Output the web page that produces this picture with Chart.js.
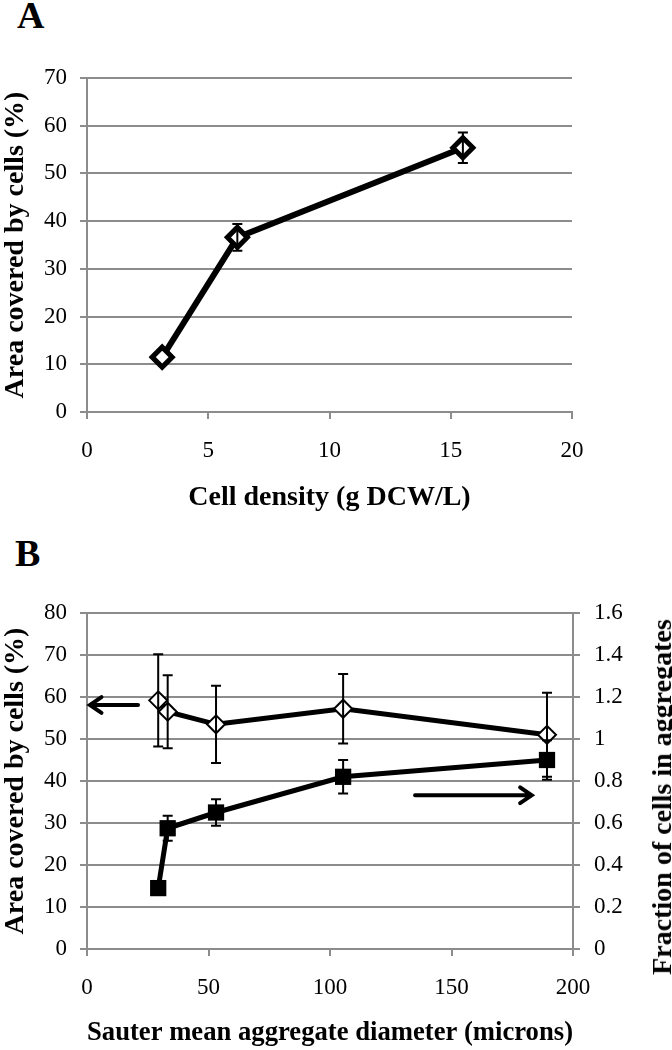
<!DOCTYPE html>
<html>
<head>
<meta charset="utf-8">
<script src="https://cdn.jsdelivr.net/npm/chart.js@4.4.0/dist/chart.umd.min.js"></script>
<style>
  body { margin: 0; background: #fff; }
  #page { position: relative; width: 672px; height: 1050px; overflow: hidden; font-family: "Liberation Serif", "Times New Roman", serif; }
  .panel-label { position: absolute; font-weight: bold; font-size: 38px; line-height: 1; }
  canvas { position: absolute; left: 0; }
  #rightTitle { position: absolute; left: 662px; top: 797px; font-weight: bold; font-size: 28px; white-space: nowrap;
    transform: translate(-50%, -50%) rotate(-90deg); }
</style>
</head>
<body>
<div id="page">
  <div class="panel-label" style="left:17px; top:-4px">A</div>
  <canvas id="chartA" width="672" height="520" style="top:0"></canvas>
  <div class="panel-label" style="left:15px; top:534px">B</div>
  <canvas id="chartB" width="672" height="530" style="top:520px"></canvas>
  <div id="rightTitle">Fraction of cells in aggregates</div>
</div>
<script>
// Panel A
const cellDensity = [3.1, 6.2, 15.5];
const areaA = [11.5, 36.6, 55.4];
const areaAErr = [0, 2.8, 3.2];

// Panel B
const sauterDiam = [29.3, 33.2, 53.1, 105.4, 189.3];
const areaB = [59.2, 56.5, 53.5, 57.2, 51.0];
const areaBErr = [11.0, 8.7, 9.2, 8.3, 10.0];
const fracAgg = [0.29, 0.575, 0.65, 0.82, 0.90];
const fracAggErr = [0, 0.06, 0.063, 0.08, 0.094];

// arrows in panel B (data units of x and left y axis)
const leftArrowX = [21, 1.2];
const leftArrowY = [58.1, 58.1];
const rightArrowX = [135, 183];
const rightArrowY = [36.6, 36.6];

const GRID = 'rgb(140,140,140)';
Chart.defaults.font.family = "'Liberation Serif', 'Times New Roman', serif";
Chart.defaults.color = '#000';

function points(xs, ys) {
  return xs.map((x, i) => ({ x: x, y: ys[i] }));
}

const errorBars = {
  id: 'errorBars',
  afterDatasetsDraw(chart) {
    const ctx = chart.ctx;
    chart.data.datasets.forEach(ds => {
      if (!ds.errors) return;
      const xs = chart.scales.x;
      const ys = chart.scales[ds.yAxisID || 'y'];
      const cap = 5;
      ctx.save();
      ctx.strokeStyle = '#000';
      ctx.lineWidth = 2;
      ds.data.forEach((p, j) => {
        const e = ds.errors[j];
        if (!e) return;
        const px = xs.getPixelForValue(p.x);
        const top = ys.getPixelForValue(p.y + e);
        const bot = ys.getPixelForValue(p.y - e);
        ctx.beginPath();
        ctx.moveTo(px, top); ctx.lineTo(px, bot);
        ctx.moveTo(px - cap, top); ctx.lineTo(px + cap, top);
        ctx.moveTo(px - cap, bot); ctx.lineTo(px + cap, bot);
        ctx.stroke();
      });
      ctx.restore();
    });
  }
};

const arrows = {
  id: 'arrows',
  afterDatasetsDraw(chart, args, opts) {
    if (!opts.list) return;
    const ctx = chart.ctx;
    const xs = chart.scales.x, ys = chart.scales.y;
    ctx.save();
    ctx.strokeStyle = '#000';
    ctx.lineWidth = 4;
    ctx.lineCap = 'round';
    opts.list.forEach(a => {
      const x0 = xs.getPixelForValue(a.x[0]), y0 = ys.getPixelForValue(a.y[0]);
      const x1 = xs.getPixelForValue(a.x[1]), y1 = ys.getPixelForValue(a.y[1]);
      const ang = Math.atan2(y1 - y0, x1 - x0);
      const h = 14;
      ctx.beginPath();
      ctx.moveTo(x0, y0); ctx.lineTo(x1, y1);
      ctx.moveTo(x1 - h * Math.cos(ang - 0.6), y1 - h * Math.sin(ang - 0.6));
      ctx.lineTo(x1, y1);
      ctx.lineTo(x1 - h * Math.cos(ang + 0.6), y1 - h * Math.sin(ang + 0.6));
      ctx.stroke();
    });
    ctx.restore();
  }
};

function yAxis(max, step, title, width) {
  return {
    min: 0, max: max,
    ticks: { stepSize: step, padding: 13, font: { size: 23 } },
    grid: { color: GRID, lineWidth: 2, tickLength: 7 },
    border: { color: GRID, width: 2 },
    title: { display: true, text: title, font: { size: 28, weight: 'bold' }, padding: { top: -1, bottom: 0 } },
    afterFit: s => { s.width = width; }
  };
}

function xAxis(max, step, title, height, padBottom) {
  return {
    type: 'linear', min: 0, max: max,
    ticks: { stepSize: step, padding: 18, font: { size: 23 }, autoSkip: false, maxRotation: 0 },
    grid: { color: GRID, lineWidth: 2, tickLength: 7, drawOnChartArea: false },
    border: { color: GRID, width: 2 },
    title: { display: true, text: title, font: { size: 28, weight: 'bold' }, padding: { top: 0, bottom: padBottom } },
    afterFit: s => { s.height = height; }
  };
}

const commonPlugins = { legend: { display: false }, tooltip: { enabled: false } };

new Chart(document.getElementById('chartA'), {
  type: 'scatter',
  data: {
    datasets: [{
      data: points(cellDensity, areaA),
      errors: areaAErr,
      showLine: true,
      borderColor: '#000',
      borderWidth: 6,
      pointStyle: 'rectRot',
      pointRadius: 10,
      pointBorderWidth: 5,
      pointBackgroundColor: '#fff',
      pointBorderColor: '#000'
    }]
  },
  options: {
    responsive: false,
    animation: false,
    layout: { padding: { top: 78, right: 100, left: 0, bottom: 0 } },
    scales: {
      x: xAxis(20, 5, 'Cell density (g DCW/L)', 108, 5),
      y: yAxis(70, 10, 'Area covered by cells (%)', 87)
    },
    plugins: commonPlugins
  },
  plugins: [errorBars]
});

const yRight = {
  position: 'right', min: 0, max: 1.6,
  ticks: { stepSize: 0.2, padding: 14, font: { size: 23 }, callback: v => String(+v.toFixed(1)) },
  grid: { color: GRID, lineWidth: 2, tickLength: 7, drawOnChartArea: false },
  border: { color: GRID, width: 2 },
  afterFit: s => { s.width = 99; }
};

new Chart(document.getElementById('chartB'), {
  type: 'scatter',
  data: {
    datasets: [{
      data: points(sauterDiam, areaB),
      errors: areaBErr,
      yAxisID: 'y',
      showLine: true,
      borderColor: '#000',
      borderWidth: 5,
      pointStyle: 'rectRot',
      pointRadius: 9,
      pointBorderWidth: 2,
      pointBackgroundColor: '#fff',
      pointBorderColor: '#000'
    }, {
      data: points(sauterDiam, fracAgg),
      errors: fracAggErr,
      yAxisID: 'y1',
      showLine: true,
      borderColor: '#000',
      borderWidth: 5,
      pointStyle: 'rect',
      pointRadius: 11.5,
      pointBorderWidth: 0,
      pointBackgroundColor: '#000'
    }]
  },
  options: {
    responsive: false,
    animation: false,
    layout: { padding: { top: 93, right: 0, left: 0, bottom: 0 } },
    scales: {
      x: xAxis(200, 50, 'Sauter mean aggregate diameter (microns)', 101, 0),
      y: yAxis(80, 10, 'Area covered by cells (%)', 87),
      y1: yRight
    },
    plugins: Object.assign({}, commonPlugins, {
      arrows: { list: [ { x: leftArrowX, y: leftArrowY }, { x: rightArrowX, y: rightArrowY } ] }
    })
  },
  plugins: [errorBars, arrows]
});
</script>
</body>
</html>
